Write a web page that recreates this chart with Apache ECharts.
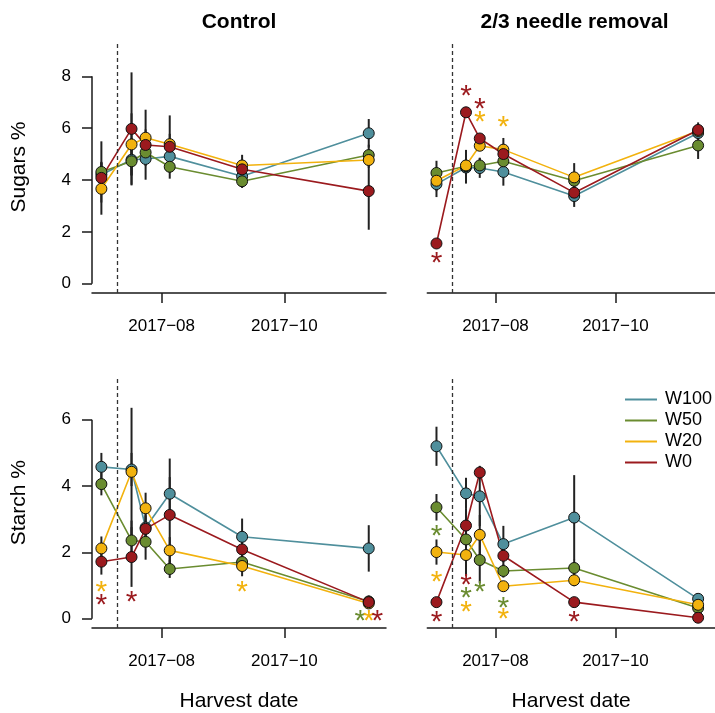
<!DOCTYPE html>
<html>
<head>
<meta charset="utf-8">
<script src="https://cdn.jsdelivr.net/npm/echarts@6/dist/echarts.min.js"></script>
<style>
  html, body { margin: 0; padding: 0; background: #fff; }
  #chart { width: 715px; height: 713px; }
</style>
</head>
<body>
<div id="chart"></div>
<script>
// ---- data -----------------------------------------------------------
const harvestDates = ['2017-07-02', '2017-07-17', '2017-07-24', '2017-08-05', '2017-09-10', '2017-11-12'];
const treatmentDate = '2017-07-10';
const groups = ['W100', 'W50', 'W20', 'W0'];
const xTickDates = ['2017-08-01', '2017-10-01'];
const xTickLabels = ['2017−08', '2017−10'];
const sugarTicks = [0, 2, 4, 6, 8];
const starchTicks = [0, 2, 4, 6];

// Sugars %, control trees (mean and standard error per harvest)
const sugarsControlW100 = [4.20, 4.78, 4.81, 4.91, 4.14, 5.80];
const sugarsControlW50  = [4.31, 4.72, 5.06, 4.51, 3.95, 4.96];
const sugarsControlW20  = [3.66, 5.37, 5.63, 5.38, 4.56, 4.77];
const sugarsControlW0   = [4.08, 5.97, 5.35, 5.28, 4.41, 3.57];
const sugarsControlSeW100 = [0.50, 0.60, 0.80, 0.40, 0.25, 0.55];
const sugarsControlSeW50  = [1.18, 0.90, 0.50, 0.46, 0.26, 0.40];
const sugarsControlSeW20  = [1.00, 1.20, 1.08, 1.11, 0.41, 0.30];
const sugarsControlSeW0   = [0.60, 2.18, 0.60, 0.50, 0.30, 1.49];

// Sugars %, 2/3 needle removal
const sugarsRemovalW100 = [3.84, 4.48, 4.46, 4.31, 3.38, 5.81];
const sugarsRemovalW50  = [4.27, 4.53, 4.56, 4.72, 3.97, 5.33];
const sugarsRemovalW20  = [3.97, 4.56, 5.32, 5.17, 4.10, 5.89];
const sugarsRemovalW0   = [1.55, 6.61, 5.60, 5.00, 3.51, 5.93];
const sugarsRemovalSeW100 = [0.50, 0.62, 0.38, 0.53, 0.42, 0.20];
const sugarsRemovalSeW50  = [0.47, 0.30, 0.30, 0.20, 0.30, 0.52];
const sugarsRemovalSeW20  = [0.40, 0.60, 0.20, 0.45, 0.55, 0.20];
const sugarsRemovalSeW0   = [0.12, 0.15, 0.15, 0.20, 0.30, 0.29];
// significance marks: [harvest index, group, height]
const sugarsRemovalStars = [[0, 'W0', 1.02], [1, 'W0', 7.48], [2, 'W0', 6.96], [2, 'W20', 6.46], [3, 'W20', 6.25]];

// Starch %, control trees
const starchControlW100 = [4.58, 4.50, 2.75, 3.77, 2.47, 2.12];
const starchControlW50  = [4.06, 2.36, 2.32, 1.50, 1.71, 0.52];
const starchControlW20  = [2.12, 4.43, 3.33, 2.06, 1.59, 0.46];
const starchControlW0   = [1.72, 1.86, 2.71, 3.13, 2.09, 0.50];
const starchControlSeW100 = [0.42, 0.50, 0.40, 0.50, 0.55, 0.70];
const starchControlSeW50  = [0.34, 0.60, 0.54, 0.27, 0.30, 0.10];
const starchControlSeW20  = [0.36, 1.93, 0.47, 0.40, 0.31, 0.10];
const starchControlSeW0   = [0.39, 0.90, 0.40, 1.70, 0.30, 0.20];
const starchControlStars = [[0, 'W20', 0.98], [0, 'W0', 0.60], [1, 'W0', 0.68], [4, 'W20', 0.98],
                            [5, 'W50', 0.10], [5, 'W20', 0.10], [5, 'W0', 0.10]];

// Starch %, 2/3 needle removal
const starchRemovalW100 = [5.20, 3.78, 3.69, 2.25, 3.05, 0.60];
const starchRemovalW50  = [3.36, 2.39, 1.77, 1.44, 1.53, 0.32];
const starchRemovalW20  = [2.01, 1.92, 2.53, 0.98, 1.16, 0.42];
const starchRemovalW0   = [0.50, 2.81, 4.41, 1.90, 0.50, 0.03];
const starchRemovalSeW100 = [0.59, 0.47, 0.90, 0.55, 1.28, 0.10];
const starchRemovalSeW50  = [0.40, 0.40, 0.70, 0.20, 0.25, 0.08];
const starchRemovalSeW20  = [0.38, 0.63, 0.60, 0.15, 0.18, 0.08];
const starchRemovalSeW0   = [0.10, 0.50, 0.20, 0.30, 0.10, 0.05];
const starchRemovalStars = [[0, 'W50', 2.67], [0, 'W20', 1.29], [0, 'W0', 0.09],
                            [1, 'W0', 1.19], [1, 'W50', 0.79], [1, 'W20', 0.37],
                            [2, 'W50', 0.97], [3, 'W50', 0.49], [3, 'W20', 0.18], [4, 'W0', 0.09]];

// ---- styling --------------------------------------------------------
const groupColors = { W100: '#4f8f9c', W50: '#6a8c30', W20: '#f2b20e', W0: '#9b1a1e' };
const FONT = '"Liberation Sans", Arial, Helvetica, sans-serif';
const INK = '#1a1a1a';
const STAR_SIZE = 30;

// calendar dates are placed on a numeric (millisecond) axis
const ts = s => {
  const [y, m, d] = s.split('-').map(Number);
  return new Date(y, m - 1, d).getTime();
};
const xMin = new Date(2017, 5, 27, 8).getTime();
const xMax = new Date(2017, 10, 20, 14).getTime();
const xTickTs = xTickDates.map(ts);

const panels = [
  { grid: { left: 92, top: 41, width: 294, height: 252 }, yRange: [-0.36, 9.36], ticks: sugarTicks,
    leftAxis: true, yName: 'Sugars %', xName: '',
    means: { W100: sugarsControlW100, W50: sugarsControlW50, W20: sugarsControlW20, W0: sugarsControlW0 },
    se: { W100: sugarsControlSeW100, W50: sugarsControlSeW50, W20: sugarsControlSeW20, W0: sugarsControlSeW0 },
    stars: [] },
  { grid: { left: 427.3, top: 41, width: 294, height: 252 }, yRange: [-0.36, 9.36], ticks: sugarTicks,
    leftAxis: false, yName: '', xName: '',
    means: { W100: sugarsRemovalW100, W50: sugarsRemovalW50, W20: sugarsRemovalW20, W0: sugarsRemovalW0 },
    se: { W100: sugarsRemovalSeW100, W50: sugarsRemovalSeW50, W20: sugarsRemovalSeW20, W0: sugarsRemovalSeW0 },
    stars: sugarsRemovalStars },
  { grid: { left: 92, top: 377.3, width: 294, height: 251.7 }, yRange: [-0.28, 7.28], ticks: starchTicks,
    leftAxis: true, yName: 'Starch %', xName: 'Harvest date',
    means: { W100: starchControlW100, W50: starchControlW50, W20: starchControlW20, W0: starchControlW0 },
    se: { W100: starchControlSeW100, W50: starchControlSeW50, W20: starchControlSeW20, W0: starchControlSeW0 },
    stars: starchControlStars },
  { grid: { left: 427.3, top: 377.3, width: 294, height: 251.7 }, yRange: [-0.28, 7.28], ticks: starchTicks,
    leftAxis: false, yName: '', xName: 'Harvest date',
    means: { W100: starchRemovalW100, W50: starchRemovalW50, W20: starchRemovalW20, W0: starchRemovalW0 },
    se: { W100: starchRemovalSeW100, W50: starchRemovalSeW50, W20: starchRemovalSeW20, W0: starchRemovalSeW0 },
    stars: starchRemovalStars }
];

const grids = [], xAxes = [], yAxes = [], series = [];

panels.forEach((p, i) => {
  grids.push(Object.assign({ containLabel: false }, p.grid));

  xAxes.push({
    type: 'value', gridIndex: i, min: xMin, max: xMax,
    axisLine: { show: true, onZero: false, lineStyle: { color: INK, width: 1.5 } },
    axisTick: { show: true, customValues: xTickTs, length: 10, lineStyle: { color: INK, width: 1.5 } },
    axisLabel: {
      show: true, customValues: xTickTs, margin: 25, fontSize: 17, color: '#000', fontFamily: FONT,
      formatter: v => {
        let best = 0;
        xTickTs.forEach((t, k) => { if (Math.abs(t - v) < Math.abs(xTickTs[best] - v)) best = k; });
        return xTickLabels[best];
      }
    },
    splitLine: { show: false },
    name: p.xName, nameLocation: 'middle', nameGap: 63,
    nameTextStyle: { fontSize: 21, color: '#000', fontFamily: FONT }
  });

  yAxes.push({
    type: 'value', gridIndex: i, min: p.yRange[0], max: p.yRange[1], show: p.leftAxis,
    axisLine: { show: false, onZero: false },
    axisTick: { show: true, customValues: p.ticks, length: 10, lineStyle: { color: INK, width: 1.5 } },
    axisLabel: { show: true, customValues: p.ticks, margin: 21, fontSize: 17, color: '#000', fontFamily: FONT },
    splitLine: { show: false },
    name: p.yName, nameLocation: 'middle', nameGap: 62, nameRotate: 90,
    nameTextStyle: { fontSize: 21, color: '#000', fontFamily: FONT }
  });

  // treatment date and left axis spine
  const marks = [{ xAxis: ts(treatmentDate), lineStyle: { type: [4, 3], color: '#333', width: 1.3 } }];
  if (p.leftAxis) {
    marks.push([{ coord: [xMin, p.ticks[0]], lineStyle: { type: 'solid', color: INK, width: 1.5 } },
                { coord: [xMin, p.ticks[p.ticks.length - 1]] }]);
  }
  series.push({
    type: 'line', xAxisIndex: i, yAxisIndex: i, data: [], silent: true, z: 1, symbol: 'none',
    markLine: { silent: true, symbol: ['none', 'none'], label: { show: false }, animation: false, data: marks }
  });

  // connecting lines
  groups.forEach(g => {
    series.push({
      type: 'line', name: g, xAxisIndex: i, yAxisIndex: i, z: 2,
      data: harvestDates.map((d, k) => [ts(d), p.means[g][k]]),
      showSymbol: false, symbol: 'none', silent: true,
      lineStyle: { color: groupColors[g], width: 1.6 },
      itemStyle: { color: groupColors[g] }
    });
  });

  // error bars (mean ± se)
  const bars = [];
  groups.forEach(g => harvestDates.forEach((d, k) => {
    bars.push([ts(d), p.means[g][k] - p.se[g][k], p.means[g][k] + p.se[g][k]]);
  }));
  series.push({
    type: 'custom', xAxisIndex: i, yAxisIndex: i, z: 3, silent: true, data: bars,
    encode: { x: 0, y: [1, 2] },
    renderItem: (params, api) => {
      const a = api.coord([api.value(0), api.value(1)]);
      const b = api.coord([api.value(0), api.value(2)]);
      return { type: 'line', shape: { x1: a[0], y1: a[1], x2: b[0], y2: b[1] },
               style: { stroke: '#222', lineWidth: 2 } };
    }
  });

  // points
  groups.forEach(g => {
    series.push({
      type: 'scatter', name: g, xAxisIndex: i, yAxisIndex: i, z: 4, silent: true,
      data: harvestDates.map((d, k) => [ts(d), p.means[g][k]]),
      symbol: 'circle', symbolSize: 11,
      itemStyle: { color: groupColors[g], borderColor: '#111', borderWidth: 1, opacity: 1 }
    });
  });

  // significance asterisks; marks sharing a spot are spread sideways
  if (p.stars.length) {
    const seen = {};
    const starData = p.stars.map(([k, g, y]) => {
      const key = k + ':' + y;
      seen[key] = (seen[key] || 0) + 1;
      return { key: key, v: [ts(harvestDates[k]), y, groups.indexOf(g), seen[key] - 1] };
    }).map(s => {
      s.v[3] = s.v[3] - (seen[s.key] - 1) / 2;
      return s.v;
    });
    series.push({
      type: 'custom', xAxisIndex: i, yAxisIndex: i, z: 5, silent: true, data: starData,
      encode: { x: 0, y: 1 },
      renderItem: (params, api) => {
        const c = api.coord([api.value(0), api.value(1)]);
        return {
          type: 'text', x: c[0] + api.value(3) * 8.5, y: c[1] + STAR_SIZE * 0.22,
          style: { text: '*', fill: groupColors[groups[api.value(2)]], fontSize: STAR_SIZE,
                   fontFamily: FONT, align: 'center', verticalAlign: 'middle' }
        };
      }
    });
  }
});

const chart = echarts.init(document.getElementById('chart'), null, { renderer: 'canvas' });
chart.setOption({
  animation: false,
  backgroundColor: '#fff',
  textStyle: { fontFamily: FONT },
  grid: grids,
  xAxis: xAxes,
  yAxis: yAxes,
  legend: {
    data: groups.map(g => ({ name: g, icon: 'rect' })),
    orient: 'vertical', left: 620, top: 384.5,
    itemWidth: 32, itemHeight: 2, itemGap: 1, selectedMode: false,
    textStyle: { fontSize: 18, color: '#000', fontFamily: FONT, lineHeight: 20, padding: [0, 0, 0, 3] }
  },
  graphic: [
    { type: 'text', x: 239, y: 22, silent: true,
      style: { text: 'Control', fontSize: 21, fontWeight: 'bold', fontFamily: FONT, fill: '#000',
               align: 'center', verticalAlign: 'middle' } },
    { type: 'text', x: 574.5, y: 22, silent: true,
      style: { text: '2/3 needle removal', fontSize: 21, fontWeight: 'bold', fontFamily: FONT, fill: '#000',
               align: 'center', verticalAlign: 'middle' } }
  ],
  series: series
});
</script>
</body>
</html>
